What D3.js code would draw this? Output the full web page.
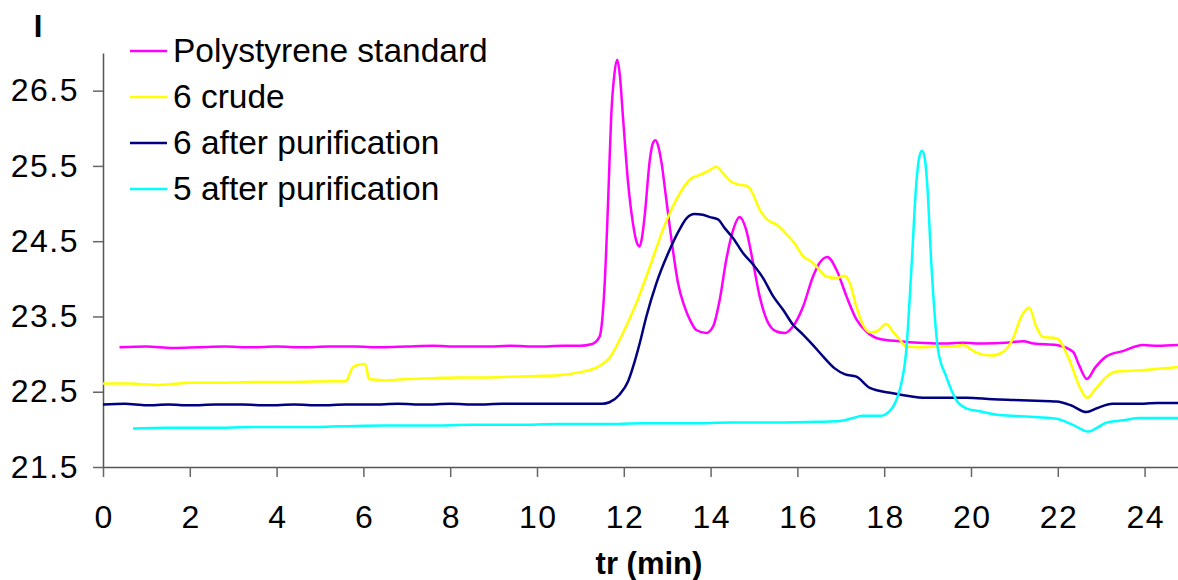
<!DOCTYPE html>
<html>
<head>
<meta charset="utf-8">
<script src="https://cdn.jsdelivr.net/npm/d3@7"></script>
<style>
  body { margin: 0; background: #fff; }
  text { font-family: "Liberation Sans", Arial, sans-serif; }
</style>
</head>
<body>
<div id="graph"></div>
<script>
// chromatogram traces, [tr (min), intensity]
const polystyrene = [
  [0.38, 23.09], [1.0, 23.10], [1.6, 23.08], [2.2, 23.09], [2.8, 23.10], [3.4, 23.09],
  [4.0, 23.10], [4.6, 23.09], [5.2, 23.10], [5.8, 23.10], [6.4, 23.09], [7.0, 23.10],
  [7.6, 23.11], [8.2, 23.10], [8.8, 23.10], [9.4, 23.11], [10.0, 23.10], [10.6, 23.11],
  [11.0, 23.11], [11.25, 23.13], [11.44, 23.23], [11.56, 23.94], [11.64, 25.05],
  [11.71, 26.16], [11.79, 26.75], [11.85, 26.91], [11.91, 26.7], [11.98, 26.16],
  [12.1, 25.27], [12.21, 24.74], [12.29, 24.5], [12.36, 24.43], [12.42, 24.55],
  [12.48, 24.83], [12.6, 25.58], [12.67, 25.8], [12.73, 25.84], [12.8, 25.75],
  [12.87, 25.54], [12.98, 25.05], [13.13, 24.39], [13.25, 23.94], [13.4, 23.63],
  [13.52, 23.46], [13.67, 23.32], [13.9, 23.28], [14.06, 23.37], [14.21, 23.72],
  [14.36, 24.25], [14.52, 24.65], [14.67, 24.82], [14.82, 24.65], [14.98, 24.21],
  [15.13, 23.77], [15.29, 23.46], [15.52, 23.3], [15.71, 23.28], [15.9, 23.37],
  [16.13, 23.63], [16.36, 24.03], [16.51, 24.21], [16.69, 24.29], [16.9, 24.12],
  [17.13, 23.77], [17.36, 23.46], [17.59, 23.3], [17.9, 23.2], [18.36, 23.17],
  [18.8, 23.15], [19.3, 23.14], [19.8, 23.15], [20.3, 23.14], [20.8, 23.15],
  [21.2, 23.17], [21.45, 23.14], [21.97, 23.12], [22.35, 23.03], [22.5, 22.84],
  [22.67, 22.67], [22.86, 22.82], [23.12, 22.97], [23.5, 23.04], [23.96, 23.12],
  [24.3, 23.11], [24.77, 23.12]
];

const crude6 = [
  [0, 22.61], [0.6, 22.61], [1.3, 22.59], [2.0, 22.62], [2.8, 22.62], [3.6, 22.63],
  [4.4, 22.63], [5.2, 22.64], [5.6, 22.64], [5.67, 22.72], [5.75, 22.82], [5.9, 22.86],
  [6.03, 22.87], [6.08, 22.8], [6.12, 22.67], [6.3, 22.66], [6.5, 22.65], [7.0, 22.67],
  [7.6, 22.68], [8.2, 22.69], [8.8, 22.69], [9.4, 22.70], [10.0, 22.71], [10.5, 22.72],
  [11.0, 22.76], [11.4, 22.83], [11.67, 22.95], [11.98, 23.28], [12.29, 23.68],
  [12.6, 24.16], [12.9, 24.65], [13.13, 24.96], [13.36, 25.2], [13.52, 25.32],
  [13.75, 25.38], [13.94, 25.43], [14.13, 25.49], [14.29, 25.4], [14.48, 25.29],
  [14.67, 25.25], [14.86, 25.23], [14.98, 25.12], [15.13, 24.92], [15.32, 24.78],
  [15.52, 24.72], [15.75, 24.59], [15.94, 24.47], [16.13, 24.3], [16.32, 24.23],
  [16.51, 24.12], [16.67, 24.03], [16.9, 24.01], [17.09, 24.04], [17.21, 23.94],
  [17.36, 23.63], [17.51, 23.39], [17.67, 23.29], [17.82, 23.3], [18.05, 23.4],
  [18.2, 23.3], [18.36, 23.19], [18.51, 23.1], [18.8, 23.09], [19.2, 23.1],
  [19.6, 23.1], [19.81, 23.12], [20.12, 23.02], [20.47, 22.98], [20.74, 23.03],
  [20.97, 23.21], [21.16, 23.5], [21.34, 23.62], [21.5, 23.37], [21.65, 23.23],
  [21.97, 23.21], [22.27, 22.92], [22.5, 22.57], [22.67, 22.42], [22.86, 22.53],
  [23.12, 22.7], [23.35, 22.77], [23.72, 22.78], [24.2, 22.8], [24.77, 22.83]
];

const purified6 = [
  [0, 22.33], [0.5, 22.34], [1.0, 22.32], [1.5, 22.33], [2.0, 22.32], [2.6, 22.33],
  [3.2, 22.33], [3.8, 22.32], [4.4, 22.33], [5.0, 22.32], [5.6, 22.33], [6.2, 22.33],
  [6.8, 22.34], [7.4, 22.33], [8.0, 22.34], [8.6, 22.33], [9.2, 22.34], [9.8, 22.34],
  [10.4, 22.34], [11.0, 22.34], [11.5, 22.34], [11.67, 22.36], [11.9, 22.46],
  [12.1, 22.64], [12.25, 22.9], [12.37, 23.15], [12.52, 23.5], [12.75, 23.94],
  [13.06, 24.39], [13.28, 24.65], [13.44, 24.8], [13.63, 24.86], [13.82, 24.85],
  [13.98, 24.82], [14.17, 24.79], [14.33, 24.67], [14.52, 24.54], [14.75, 24.34],
  [14.98, 24.19], [15.21, 24.01], [15.44, 23.77], [15.67, 23.59], [15.9, 23.39],
  [16.13, 23.26], [16.36, 23.12], [16.59, 22.97], [16.86, 22.81], [17.1, 22.73],
  [17.36, 22.7], [17.67, 22.55], [18.2, 22.48], [18.6, 22.44], [18.89, 22.42],
  [19.4, 22.42], [19.9, 22.42], [20.5, 22.40], [21.0, 22.39], [21.5, 22.38],
  [21.97, 22.37], [22.3, 22.32], [22.66, 22.23], [22.9, 22.28], [23.26, 22.34],
  [23.8, 22.34], [24.3, 22.35], [24.77, 22.35]
];

const purified5 = [
  [0.69, 22.01], [1.5, 22.02], [2.5, 22.02], [3.5, 22.03], [4.53, 22.03], [5.5, 22.04],
  [6.5, 22.05], [7.5, 22.05], [8.5, 22.06], [9.5, 22.06], [10.5, 22.07], [11.5, 22.07],
  [12.5, 22.08], [13.5, 22.08], [14.5, 22.09], [15.5, 22.09], [16.5, 22.10],
  [16.97, 22.11], [17.28, 22.15], [17.51, 22.18], [17.9, 22.18], [18.12, 22.24],
  [18.28, 22.39], [18.36, 22.53], [18.51, 23.06], [18.63, 24.16], [18.74, 25.27],
  [18.81, 25.62], [18.87, 25.7], [18.93, 25.62], [18.99, 25.27], [19.09, 24.16],
  [19.24, 23.06], [19.43, 22.7], [19.66, 22.39], [19.89, 22.28], [20.2, 22.24],
  [20.66, 22.19], [21.28, 22.17], [21.97, 22.14], [22.35, 22.06], [22.7, 21.97],
  [22.9, 22.02], [23.12, 22.09], [23.5, 22.12], [23.89, 22.15], [24.3, 22.15],
  [24.77, 22.15]
];

const seriesNames = ["Polystyrene standard", "6 crude", "6 after purification", "5 after purification"];
const seriesColors = ["#ff00ff", "#ffff00", "#000080", "#00ffff"];
const xTicks = [0, 2, 4, 6, 8, 10, 12, 14, 16, 18, 20, 22, 24];
const yTicks = [21.5, 22.5, 23.5, 24.5, 25.5, 26.5];

// dimensions
const width = 1178;
const height = 580;
const margin = ({top: 53, right: 0, bottom: 113, left: 103});

const x = d3.scaleLinear().domain([0, 24.77]).range([margin.left, width - margin.right]);
const y = d3.scaleLinear().domain([21.5, 27]).range([height - margin.bottom, margin.top]);

const line = d3.line()
  .x(d => x(d[0]))
  .y(d => y(d[1]))
  .curve(d3.curveMonotoneX);

const svg = d3.select("#graph").append("svg")
  .attr("width", width)
  .attr("height", height);

const styleAxis = g => {
  g.select(".domain").attr("stroke", "#555").attr("stroke-width", 1.5);
  g.selectAll(".tick line").attr("stroke", "#666").attr("stroke-width", 1.5);
  g.selectAll(".tick text").attr("fill", "#000").style("font-size", "32px")
    .style("letter-spacing", "1.5px")
    .style("font-family", "'Liberation Sans', Arial, sans-serif");
};

// x axis
svg.append("g")
  .attr("transform", `translate(0,${height - margin.bottom})`)
  .call(d3.axisBottom(x).tickValues(xTicks).tickSize(10).tickSizeOuter(0).tickPadding(28))
  .call(styleAxis)
  .call(g => g.selectAll(".tick text").attr("dx", "0.75px"));

// y axis
svg.append("g")
  .attr("transform", `translate(${margin.left},0)`)
  .call(d3.axisLeft(y).tickValues(yTicks).tickFormat(d3.format(".1f")).tickSize(10).tickSizeOuter(0).tickPadding(14))
  .call(styleAxis);

// traces, drawn so the later series sit on top
[polystyrene, crude6, purified6, purified5].forEach((data, i) => {
  svg.append("path")
    .attr("fill", "none")
    .attr("stroke", seriesColors[i])
    .attr("stroke-width", 2.5)
    .attr("stroke-linejoin", "round")
    .attr("d", line(data));
});

// legend
const legend = svg.append("g");
seriesNames.forEach((name, i) => {
  const ly = 51 + i * 46;
  legend.append("line")
    .attr("x1", 130).attr("x2", 167)
    .attr("y1", ly).attr("y2", ly)
    .attr("stroke", seriesColors[i])
    .attr("stroke-width", 2.5);
  legend.append("text")
    .attr("x", 173).attr("y", ly + 11)
    .style("font-size", "33.5px")
    .text(name);
});

// axis titles
svg.append("text")
  .attr("x", 649).attr("y", 574)
  .attr("text-anchor", "middle")
  .style("font-size", "31px").style("font-weight", "bold")
  .text("tr (min)");

svg.append("text")
  .attr("x", 38).attr("y", 37)
  .attr("text-anchor", "middle")
  .style("font-size", "31px").style("font-weight", "bold")
  .text("I");
</script>
</body>
</html>
